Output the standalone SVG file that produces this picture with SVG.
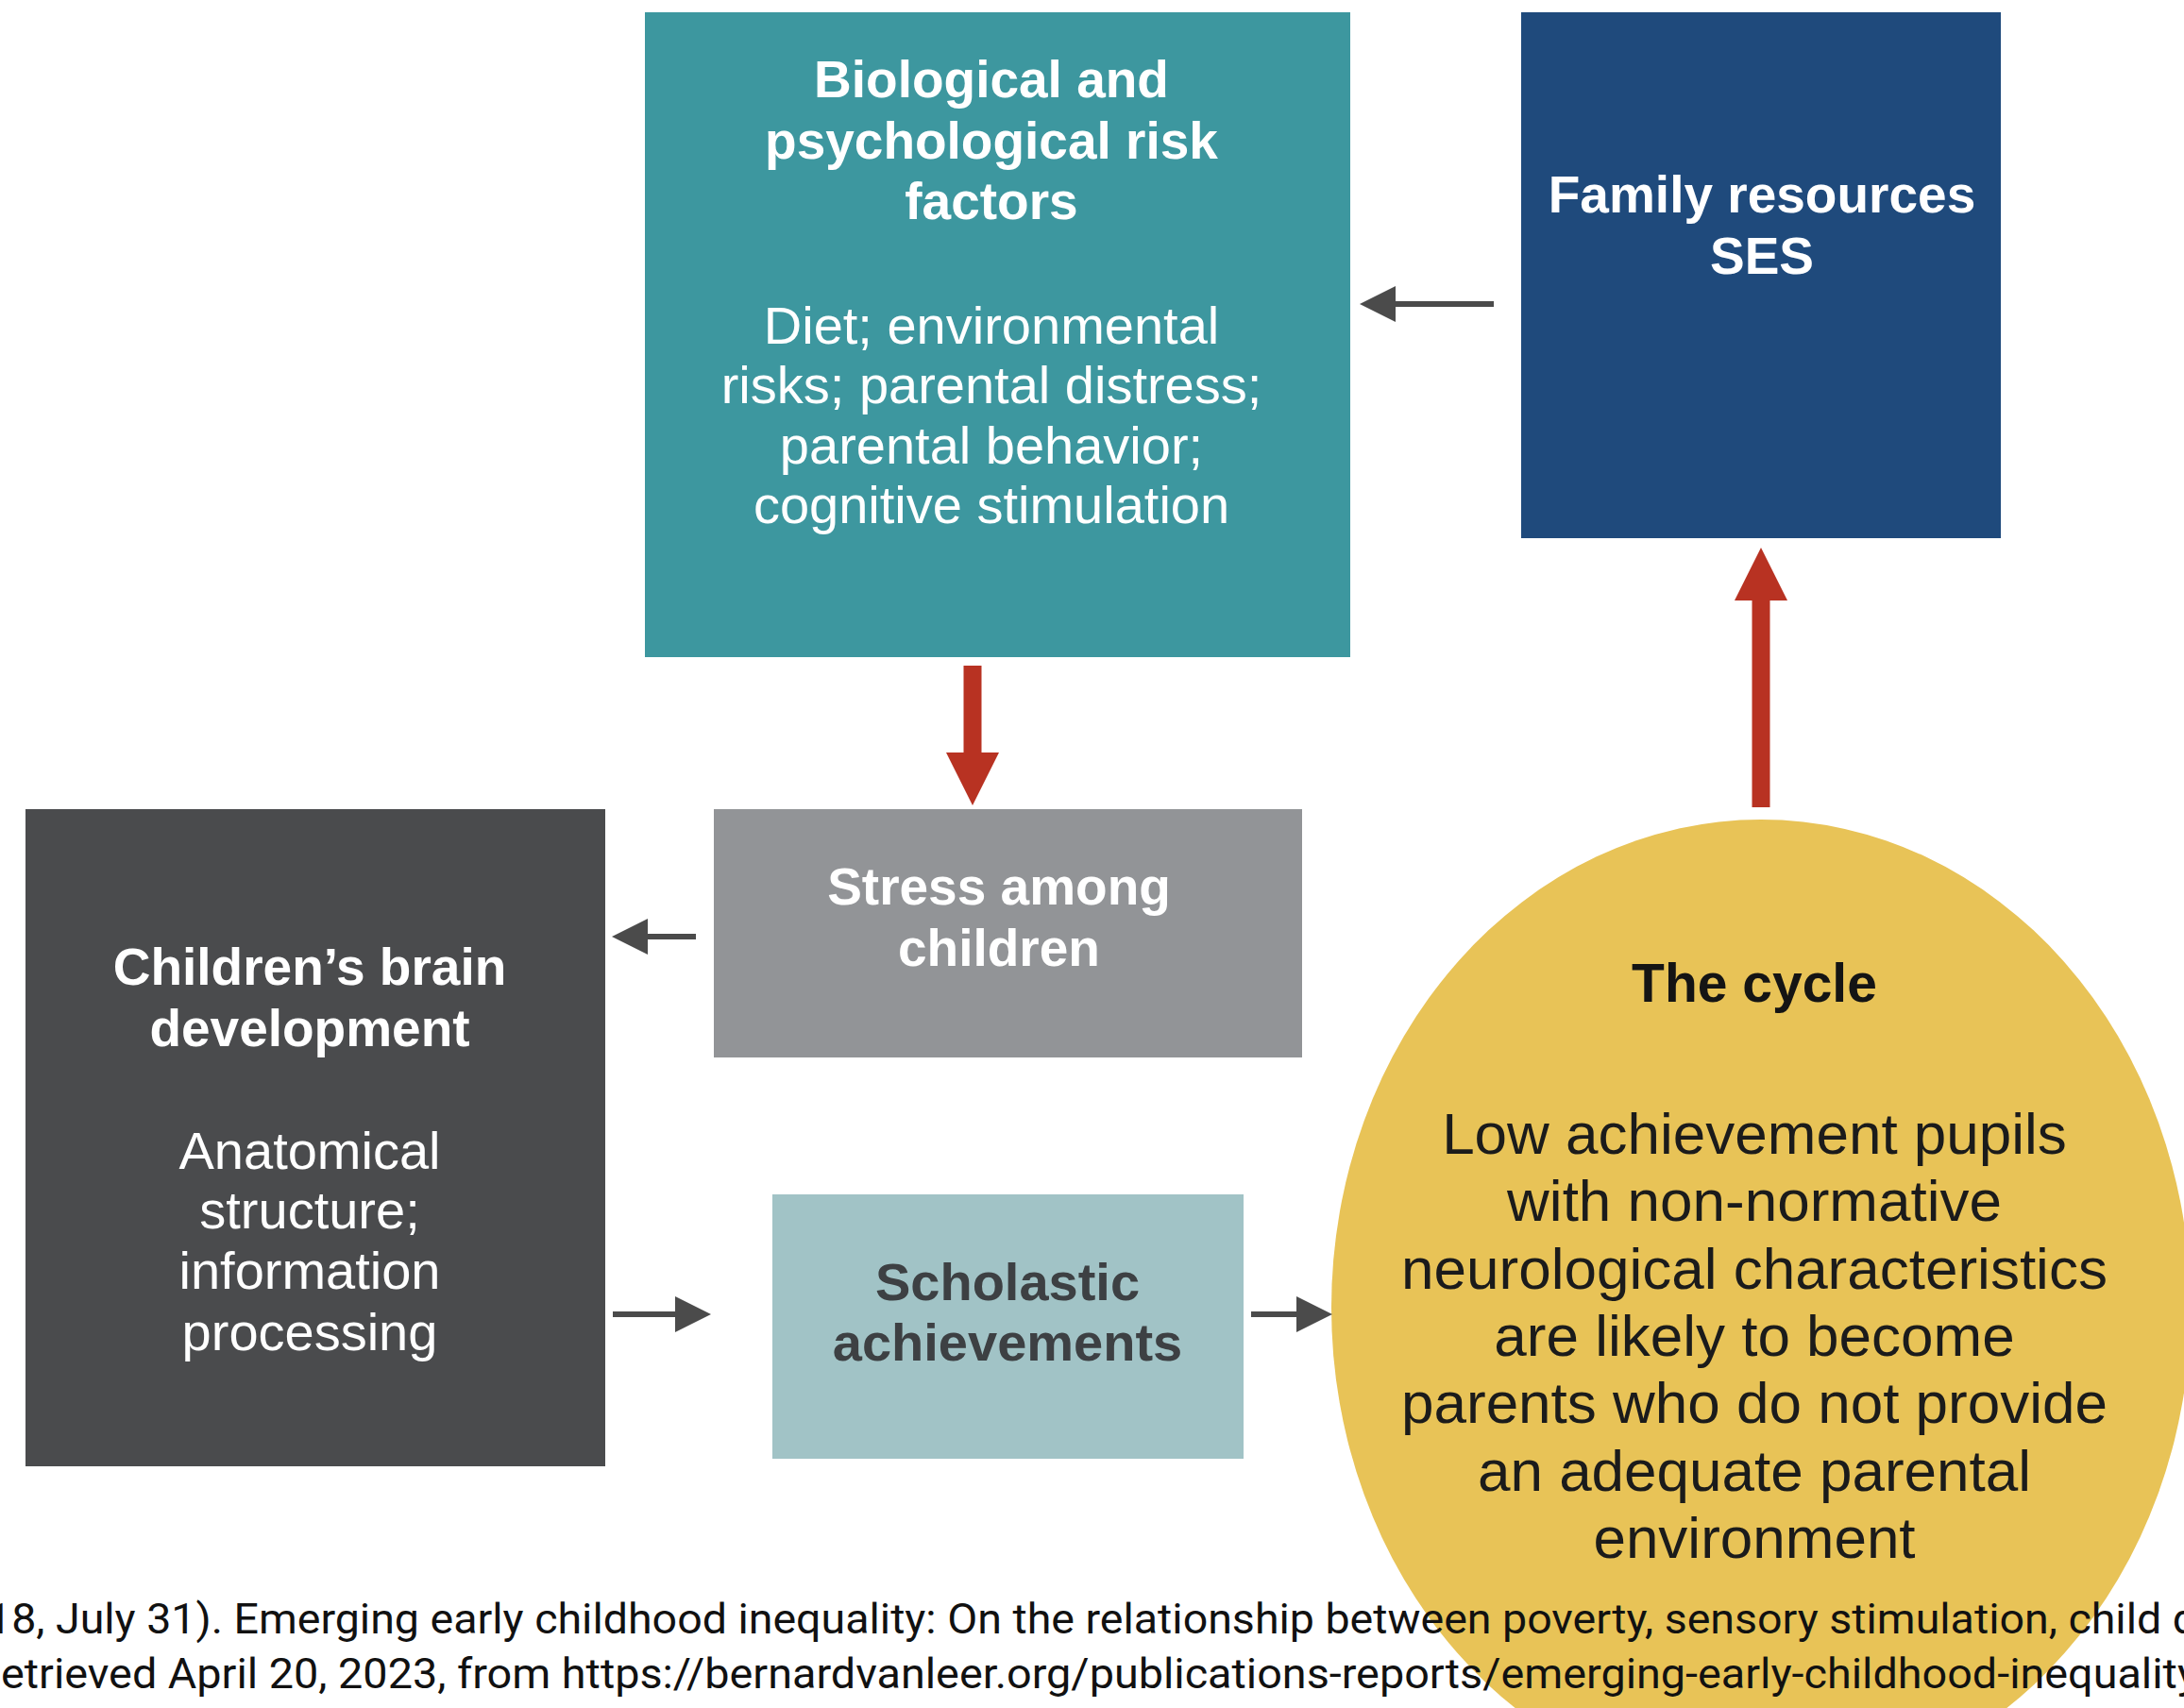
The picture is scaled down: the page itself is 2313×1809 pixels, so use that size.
<svg xmlns="http://www.w3.org/2000/svg" width="2313" height="1809" viewBox="0 0 2313 1809">
  <style>
    .h { font-family: "Liberation Sans", Arial, sans-serif; font-weight: bold; font-size: 55px; text-anchor: middle; fill: #ffffff; }
    .b { font-family: "Liberation Sans", Arial, sans-serif; font-size: 56px; text-anchor: middle; fill: #ffffff; }
    .sch { fill: #3d4043; font-size: 56px; }
    .cyh { font-family: "Liberation Sans", Arial, sans-serif; font-weight: bold; font-size: 57px; text-anchor: middle; fill: #141414; }
    .cyb { font-family: "Liberation Sans", Arial, sans-serif; font-size: 62px; text-anchor: middle; fill: #1b1b1b; }
    .cap { font-family: Roboto, "Noto Sans", sans-serif; font-size: 44px; fill: #111111; }
    .ga { stroke: #4b4b4b; stroke-width: 6; fill: none; }
    .ra { stroke: #b83222; stroke-width: 19; fill: none; }
  </style>
  <defs>
    <marker id="gh" viewBox="0 0 38 40" markerUnits="userSpaceOnUse" markerWidth="38" markerHeight="40" refX="8" refY="20" orient="auto">
      <path d="M0,1 L38,20 L0,39 Z" fill="#4b4b4b"/>
    </marker>
    <marker id="rh" viewBox="0 0 56 56" markerUnits="userSpaceOnUse" markerWidth="56" markerHeight="56" refX="6" refY="28" orient="auto">
      <path d="M0,0 L56,28 L0,56 Z" fill="#b83222"/>
    </marker>
  </defs>
  <rect width="2313" height="1809" fill="#ffffff"/>

  <g id="cycle">
    <ellipse cx="1865" cy="1385" rx="455" ry="517" fill="#e8c357"/>
    <text class="cyh" x="1858" y="1061">The cycle</text>
    <text class="cyb" x="1858" y="1222">Low achievement pupils</text>
    <text class="cyb" x="1858" y="1293">with non-normative</text>
    <text class="cyb" x="1858" y="1365">neurological characteristics</text>
    <text class="cyb" x="1858" y="1436">are likely to become</text>
    <text class="cyb" x="1858" y="1507">parents who do not provide</text>
    <text class="cyb" x="1858" y="1579">an adequate parental</text>
    <text class="cyb" x="1858" y="1650">environment</text>
  </g>

  <g id="risk-factors">
    <rect x="683" y="13" width="747" height="683" fill="#3d979f"/>
    <text class="h" x="1050" y="103">Biological and</text>
    <text class="h" x="1050" y="168">psychological risk</text>
    <text class="h" x="1050" y="232">factors</text>
    <text class="b" x="1050" y="364">Diet; environmental</text>
    <text class="b" x="1050" y="427">risks; parental distress;</text>
    <text class="b" x="1050" y="491">parental behavior;</text>
    <text class="b" x="1050" y="554">cognitive stimulation</text>
  </g>

  <g id="family-resources">
    <rect x="1611" y="13" width="508" height="557" fill="#1f4a7c"/>
    <text class="h" x="1866" y="225">Family resources</text>
    <text class="h" x="1866" y="290">SES</text>
  </g>

  <g id="stress">
    <rect x="756" y="857" width="623" height="263" fill="#929497"/>
    <text class="h" x="1058" y="958">Stress among</text>
    <text class="h" x="1058" y="1023">children</text>
  </g>

  <g id="brain-development">
    <rect x="27" y="857" width="614" height="696" fill="#4a4b4d"/>
    <text class="h" x="328" y="1043">Children’s brain</text>
    <text class="h" x="328" y="1108">development</text>
    <text class="b" x="328" y="1238">Anatomical</text>
    <text class="b" x="328" y="1301">structure;</text>
    <text class="b" x="328" y="1365">information</text>
    <text class="b" x="328" y="1430">processing</text>
  </g>

  <g id="scholastic">
    <rect x="818" y="1265" width="499" height="280" fill="#a1c3c6"/>
    <text class="h sch" x="1067" y="1377">Scholastic</text>
    <text class="h sch" x="1067" y="1441">achievements</text>
  </g>

  <g id="connectors">
    <line class="ga" x1="1582" y1="322" x2="1470" y2="322" marker-end="url(#gh)"/>
    <line class="ga" x1="737" y1="992" x2="678" y2="992" marker-end="url(#gh)"/>
    <line class="ga" x1="649" y1="1392" x2="723" y2="1392" marker-end="url(#gh)"/>
    <line class="ga" x1="1325" y1="1392" x2="1381" y2="1392" marker-end="url(#gh)"/>
    <line class="ra" x1="1030" y1="705" x2="1030" y2="803" marker-end="url(#rh)"/>
    <line class="ra" x1="1865" y1="855" x2="1865" y2="630" marker-end="url(#rh)"/>
  </g>

  <g id="caption">
    <text class="cap" x="-14" y="1730" textLength="2341" lengthAdjust="spacingAndGlyphs">18, July 31). Emerging early childhood inequality: On the relationship between poverty, sensory stimulation, child d</text>
    <text class="cap" x="1" y="1788" textLength="2327" lengthAdjust="spacingAndGlyphs">etrieved April 20, 2023, from https://bernardvanleer.org/publications-reports/emerging-early-childhood-inequality</text>
  </g>
</svg>
